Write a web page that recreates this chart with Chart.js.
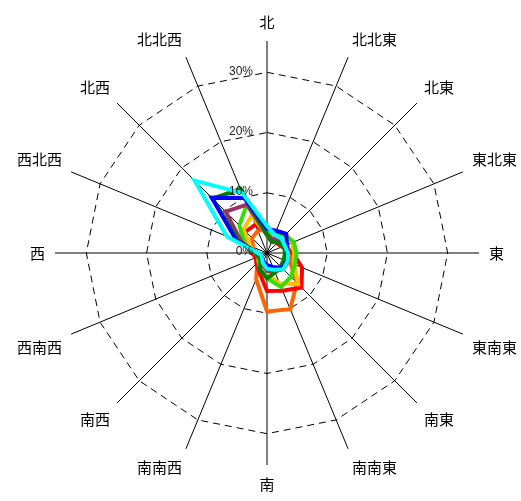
<!DOCTYPE html>
<html>
<head>
<meta charset="utf-8">
<script src="https://cdn.jsdelivr.net/npm/chart.js@4.4.1/dist/chart.umd.min.js"></script>
<style>
  html, body { margin: 0; padding: 0; background: #fff; }
  #wrap { width: 521px; height: 501px; }
</style>
</head>
<body>
<div id="wrap"><canvas id="windChart"></canvas></div>
<script>
// 16 directions, clockwise from north
const directions = ['北', '北北東', '北東', '東北東', '東', '東南東', '南東', '南南東',
                    '南', '南南西', '南西', '西南西', '西', '西北西', '北西', '北北西'];

// frequency (%) per direction, one array per series
const cyanValues   = [4.5, 3.3, 3.4, 3.2, 3.5, 3.7, 3.8, 3.0, 2.6, 1.8, 1.2, 1.0, 1.5, 7.2, 17.0, 10.8];
const blueValues   = [4.0, 4.0, 4.5, 3.6, 3.4, 3.6, 3.5, 2.5, 2.0, 1.5, 1.2, 1.0, 1.5, 5.5, 13.0, 9.9];
const dkGreenValues= [3.0, 2.0, 2.5, 3.0, 3.0, 3.0, 3.2, 3.5, 4.2, 3.0, 1.5, 1.5, 2.0, 5.0, 12.8, 11.5];
const purpleValues = [3.0, 2.5, 3.0, 3.3, 3.5, 3.8, 3.8, 3.3, 3.0, 2.0, 1.5, 1.5, 2.0, 4.5, 9.7, 8.7];
const greenValues  = [3.5, 3.5, 4.2, 4.8, 4.9, 5.0, 5.6, 6.1, 4.2, 3.0, 2.0, 1.5, 2.0, 4.0, 6.5, 8.7];
const yellowValues = [3.0, 3.2, 4.5, 4.5, 4.5, 4.9, 7.3, 5.5, 3.5, 2.5, 2.0, 1.5, 2.0, 3.0, 5.5, 6.7];
const redValues    = [3.3, 2.5, 2.3, 2.7, 4.3, 6.3, 8.1, 6.8, 6.3, 3.4, 2.5, 2.0, 2.5, 4.0, 5.0, 5.1];
const orangeValues = [4.0, 3.0, 3.0, 3.5, 4.0, 4.2, 7.0, 10.1, 9.7, 4.7, 2.3, 2.0, 2.0, 2.5, 3.5, 4.0];

// radial tick labels
const tickValues = [0, 10, 20, 30];
const tickLabels = ['0%', '10%', '20%', '30%'];

function series(values, color) {
    return {
        data: values,
        borderColor: color,
        backgroundColor: color,
        borderWidth: 4,
        pointRadius: 0,
        fill: false
    };
}

// tick labels sit just left of the north axis
const tickLabelPlugin = {
    id: 'tickLabels',
    afterDatasetsDraw(chart) {
        const scale = chart.scales.r;
        const ctx = chart.ctx;
        ctx.save();
        ctx.font = '12px "Liberation Sans", Arial, sans-serif';
        ctx.fillStyle = '#222';
        ctx.textAlign = 'right';
        ctx.textBaseline = 'middle';
        tickValues.forEach((v, i) => {
            const d = scale.getDistanceFromCenterForValue(v);
            ctx.fillText(tickLabels[i], scale.xCenter - 14, scale.yCenter - d - 1);
        });
        ctx.restore();
    }
};

const ctx = document.getElementById('windChart').getContext('2d');
const windChart = new Chart(ctx, {
    type: 'radar',
    data: {
        labels: directions,
        datasets: [
            series(cyanValues, '#00FFFF'),
            series(blueValues, '#0000FF'),
            series(dkGreenValues, '#008000'),
            series(purpleValues, '#993366'),
            series(greenValues, '#33DD00'),
            series(yellowValues, '#FFC000'),
            series(redValues, '#FF0000'),
            series(orangeValues, '#FF6600')
        ]
    },
    options: {
        responsive: true,
        maintainAspectRatio: false,
        animation: false,
        layout: {
            padding: { left: 14, right: 0, top: 13, bottom: 8 }
        },
        plugins: {
            legend: { display: false },
            tooltip: { enabled: false }
        },
        elements: {
            line: { tension: 0 }
        },
        scales: {
            r: {
                min: 0,
                max: 35.2,
                ticks: { display: false, stepSize: 10, includeBounds: false },
                grid: { color: '#000', lineWidth: 1 },
                border: { dash: [7, 5] },
                angleLines: { color: '#000', lineWidth: 1 },
                pointLabels: {
                    color: '#000',
                    padding: 10,
                    font: { family: '"Noto Sans CJK JP", sans-serif', size: 15 }
                }
            }
        }
    },
    plugins: [tickLabelPlugin]
});
</script>
</body>
</html>
